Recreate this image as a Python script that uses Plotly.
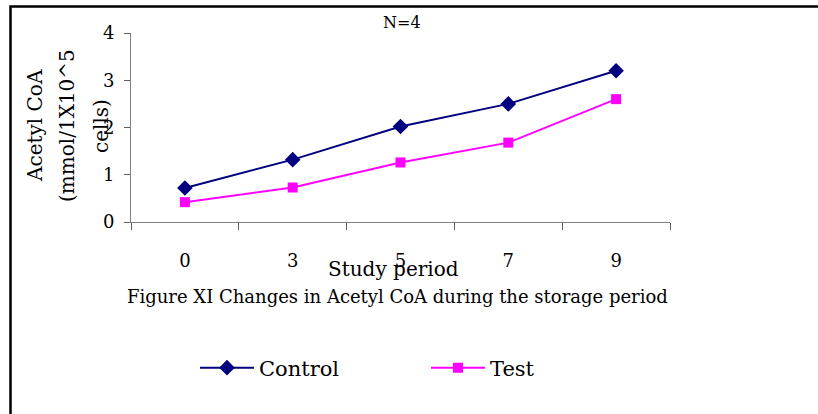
import plotly.graph_objects as go

periods = ["0", "3", "5", "7", "9"]
control = [0.72, 1.32, 2.02, 2.50, 3.20]
test = [0.42, 0.73, 1.26, 1.68, 2.60]
y_ticks = [0, 1, 2, 3, 4]

FONT = "DejaVu Serif"
W, H = 818, 414
L, R, T, B = 131, 670, 33, 222  # plot area pixels

def px(x):
    return (x - L) / (R - L)

def py(y):
    return (B - y) / (B - T)

fig = go.Figure()
fig.add_trace(go.Scatter(
    x=periods, y=control, name="Control", mode="lines+markers",
    line=dict(color="#000080", width=2),
    marker=dict(symbol="diamond", size=12, color="#000080"),
))
fig.add_trace(go.Scatter(
    x=periods, y=test, name="Test", mode="lines+markers",
    line=dict(color="#FF00FF", width=2),
    marker=dict(symbol="square", size=10, color="#FF00FF"),
))

fig.update_layout(
    width=W, height=H,
    margin=dict(l=L, r=W - R, t=T, b=H - B, pad=0),
    paper_bgcolor="white", plot_bgcolor="white",
    font=dict(family=FONT, color="black", size=18),
    showlegend=True,
    legend=dict(
        orientation="h", x=px(195), y=py(368), xanchor="left", yanchor="middle",
        font=dict(size=21, family=FONT), itemwidth=54,
        entrywidth=162, entrywidthmode="pixels",
        bgcolor="rgba(0,0,0,0)",
    ),
    xaxis=dict(
        type="category", range=[-0.5, 4.5], showgrid=False, zeroline=False,
        showline=True, linecolor="#808080", linewidth=1,
        ticks="outside", tickson="boundaries", ticklen=7, tickcolor="#606060",
        tickfont=dict(size=18, family=FONT), ticklabelstandoff=22,
    ),
    yaxis=dict(
        range=[0, 4], tickvals=y_ticks, showgrid=False, zeroline=False,
        showline=True, linecolor="#808080", linewidth=1,
        ticks="outside", ticklen=6, tickcolor="#606060",
        tickfont=dict(size=18, family=FONT), ticklabelstandoff=6,
    ),
)

# outer border (left and top visible)
fig.add_shape(type="rect", xref="paper", yref="paper",
              x0=px(10.5), x1=px(830), y0=py(430), y1=py(6.5),
              line=dict(color="black", width=2.5), layer="above")

# y-axis title lines
for text, xc in [("Acetyl CoA", 35), ("(mmol/1X10^5", 67), ("cells)", 101)]:
    fig.add_annotation(text=text, xref="paper", yref="paper", x=px(xc), y=py(126),
                       textangle=-90, showarrow=False, xanchor="center", yanchor="middle",
                       font=dict(size=20, family=FONT))

fig.add_annotation(text="N=4", xref="paper", yref="paper", x=px(402), y=py(22),
                   showarrow=False, xanchor="center", yanchor="middle",
                   font=dict(size=16, family=FONT))
fig.add_annotation(text="Study period", xref="paper", yref="paper", x=px(393), y=py(269),
                   showarrow=False, xanchor="center", yanchor="middle",
                   font=dict(size=20, family=FONT))
fig.add_annotation(text="Figure XI Changes in Acetyl CoA during the storage period",
                   xref="paper", yref="paper", x=px(397), y=py(296),
                   showarrow=False, xanchor="center", yanchor="middle",
                   font=dict(size=18, family=FONT))

fig.write_html("out.html")
